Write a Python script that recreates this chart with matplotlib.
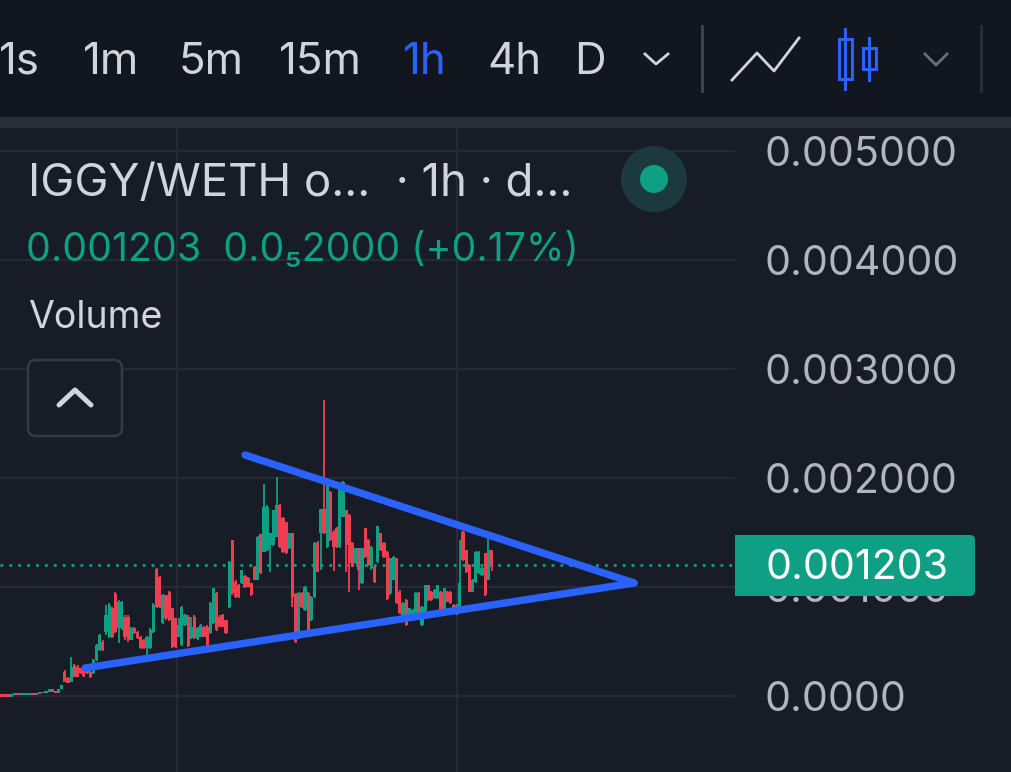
#hourly candles of IGGY/WETH with a hand drawn triangle on top
import numpy as np
import matplotlib
matplotlib.use('Agg')
import matplotlib.pyplot as plt
from matplotlib.patches import FancyBboxPatch, Rectangle, Circle

plt.rcParams['font.family'] = ['Inter', 'DejaVu Sans']

#prices are in units of 0.001
opens = [.02, .015, .015, -.005, .005, .03, .008, .008, .008, .008,
         .025, .005, .02, .04, .025, .035, .06, .05, .03, .06,
         .223, .162, .131, .284, .269, .254, .239, .239, .223, .208,
         .330, .422, .498, .590, .544, .804, .936, .621, .621, .728,
         .728, .514, .621, .590, .544, .514, .437, .437, .590, 1.162,
         1.095, .667, .927, .957, .804, .713, .544, .468, .651, .728,
         .529, .728, .520, .544, .636, .636, .575, .667, .948, .728,
         .743, .697, .820, 1.431, 1.049, 1.018, 1.034, 1.10, 1.080, 1.034,
         1.187, 1.064, 1.486, 1.324, 1.339, 1.385, 1.385, 1.462, 1.752, 1.630,
         1.593, 1.355, 1.492, .936, .529, .942, .789, .942, .697, .911,
         1.407, 1.492, 1.716, 1.370, 1.875, 1.508, 1.538, 1.370, 1.645, 1.706,
         1.661, 1.401, 1.217, 1.355, 1.040, 1.538, 1.431, 1.171, 1.187, 1.232,
         1.492, 1.401, 1.324, .942, 1.064, 1.263, .957, .697, .881, .713,
         .697, .713, .942, .651, .758, 1.018, .957, .90, .896, .957,
         .789, .957, .957, .835, .752, .820, 1.508, 1.339, 1.202, .957,
         1.049, 1.125, 1.110, 1.309, 1.064, 1.339]
closes = [-.01, -.01, -.01, .015, .025, .01, .024, .024, .024, .024,
          .005, .025, .04, .025, .045, .06, .035, .025, .06, .10,
          .131, .122, .269, .177, .177, .208, .183, .208, .177, .330,
          .468, .560, .422, .743, .835, .544, .590, .865, .865, .544,
          .514, .621, .575, .529, .437, .437, .544, .606, .835, .820,
          .820, .927, .713, .697, .446, .446, .651, .820, .743, .459,
          .636, .529, .621, .651, .544, .468, .850, .988, .606, .636,
          .636, .575, 1.232, .942, .911, .911, 1.156, 1.0, 1.003, .927,
          1.064, 1.462, 1.131, 1.737, 1.737, 1.492, 1.706, 1.752, 1.370, 1.324,
          1.309, 1.492, .911, .498, .942, .820, 1.003, .599, .911, 1.401,
          1.141, 1.716, 1.492, 1.988, 1.431, 1.370, 1.370, 1.942, 1.966, 1.385,
          1.217, 1.187, 1.355, 1.156, 1.355, 1.278, 1.202, 1.370, 1.049, 1.560,
          1.339, 1.278, .887, 1.263, 1.272, .850, .758, .850, .651, .804,
          .789, .942, .743, .820, 1.018, .881, .881, .97, 1.018, .752,
          .988, .865, .850, .774, .835, 1.034, 1.248, 1.141, .957, 1.064,
          1.324, 1.324, 1.171, .927, 1.339, 1.203]
highs = [.02, .015, .015, .015, .025, .03, .024, .024, .024, .024,
         .025, .025, .04, .04, .045, .06, .06, .05, .06, .10,
         .24, .17, .355, .29, .28, .26, .245, .245, .23, .34,
         .48, .57, .51, .835, .85, .82, .95, .88, .875, .74,
         .74, .63, .63, .60, .555, .52, .55, .62, .85, 1.17,
         1.10, .94, .93, .96, .81, .72, .713, .83, .75, .74,
         .728, .74, .63, .66, .64, .65, .86, .988, .955, .74,
         .75, .70, 1.24, 1.431, 1.06, 1.03, 1.16, 1.11, 1.09, 1.04,
         1.19, 1.47, 1.49, 1.945, 1.75, 1.50, 1.71, 2.006, 1.76, 1.64,
         1.60, 1.50, 1.50, .945, .95, .95, 1.01, .95, .92, 1.41,
         1.42, 1.72, 2.716, 2.0, 1.88, 1.52, 1.55, 1.95, 1.97, 1.71,
         1.67, 1.41, 1.36, 1.36, 1.36, 1.54, 1.44, 1.38, 1.19, 1.56,
         1.50, 1.41, 1.33, 1.27, 1.28, 1.27, .97, .86, .89, .81,
         .80, .95, .95, .83, 1.02, 1.02, .96, .98, 1.02, .96,
         .99, .96, .96, .84, .84, 1.431, 1.51, 1.34, 1.21, 1.07,
         1.33, 1.33, 1.18, 1.31, 1.446, 1.34]
lows = [-.01, -.01, -.01, -.005, .005, .01, .008, .008, .008, .008,
        .005, .005, .02, .025, .025, .035, .035, .025, .03, .06,
        .125, .115, .125, .17, .17, .20, .175, .20, .165, .20,
        .32, .415, .415, .56, .53, .53, .58, .483, .61, .514,
        .50, .51, .57, .52, .43, .43, .367, .43, .58, .81,
        .81, .66, .70, .69, .44, .44, .54, .46, .64, .45,
        .52, .52, .51, .54, .54, .46, .57, .66, .60, .63,
        .63, .57, .81, .93, .90, .90, 1.03, .99, 1.0, .92,
        1.06, 1.064, 1.12, 1.32, 1.33, 1.141, 1.38, 1.46, 1.36, 1.31,
        1.30, 1.35, .82, .49, .52, .81, .78, .59, .69, .90,
        1.14, 1.156, 1.49, 1.36, 1.42, 1.15, 1.36, 1.36, 1.64, 1.141,
        .957, 1.18, 1.21, .972, 1.03, 1.27, 1.19, 1.16, 1.04, 1.22,
        1.33, 1.27, .88, .93, 1.06, .84, .75, .69, .64, .70,
        .69, .70, .73, .64, .75, .87, .87, .89, .89, .74,
        .78, .86, .84, .77, .74, .81, 1.24, 1.13, .95, .95,
        1.04, 1.12, 1.10, .92, 1.06, 1.15]

#trendlines as (candle, price)
upper_x = [77.0, 200.1]
upper_y = [2.211, 1.037]
lower_x = [26.4, 200.1]
lower_y = [0.257, 1.037]

y_ticks = [0, 1, 2, 3, 4, 5]
y_labels = ['0.0000', '0.001000', '0.002000', '0.003000', '0.004000', '0.005000']
x_grid = [55.5, 144.1]
last_price = 1.203

intervals = ['1s', '1m', '5m', '15m', '1h', '4h', 'D']
interval_x = [-1, 83, 179, 279, 403, 487, 574]

UP = '#0E9F84'
DOWN = '#EE3E52'
BLUE = '#2962FF'
TEXT = '#D1D4DC'
GRID = '#262A35'
PANE = '#181C27'

W, H = 1011, 772
fig = plt.figure(figsize=(W/100, H/100), dpi=100, facecolor=PANE)

#chart pane, 109 px per 0.001 and 3.16 px per candle
ax = fig.add_axes([0, 0, 735/W, (H-128)/H], facecolor=PANE)
ax.set_xlim(-1.7/3.16, (735-1.7)/3.16)
ax.set_ylim((696-772)/109, (696-128)/109)

x = np.arange(len(opens))
o = np.array(opens)
c = np.array(closes)
colors = [UP if c[i] >= o[i] else DOWN for i in x]
ax.vlines(x, lows, highs, colors=colors, lw=1.3, zorder=3)
ax.bar(x, np.abs(c-o), bottom=np.minimum(o, c), width=1.0, color=colors, linewidth=0, zorder=3)

ax.axhline(last_price, color=UP, lw=2, dashes=(1, 2.2), zorder=2)
ax.plot(upper_x, upper_y, color=BLUE, lw=5.3, solid_capstyle='round', zorder=4)
ax.plot(lower_x, lower_y, color=BLUE, lw=5.3, solid_capstyle='round', zorder=4)

ax.set_xticks(x_grid)
ax.set_yticks(y_ticks)
ax.set_xticklabels([])
ax.set_yticklabels(y_labels, color='#B2B5BE', fontsize=29.6)
ax.yaxis.tick_right()
ax.tick_params(axis='both', length=0)
ax.tick_params(axis='y', pad=21)
ax.grid(True, color=GRID, lw=1.6)
ax.set_axisbelow(True)
for s in ax.spines.values():
    s.set_visible(False)

#toolbar and legend widgets, in pixel coordinates
ui = fig.add_axes([0, 0, 1, 1], facecolor='none', zorder=5)
ui.set_xlim(0, W)
ui.set_ylim(H, 0)
ui.axis('off')

ui.add_patch(Rectangle((0, 0), W, 117, color='#12161F', lw=0))
ui.add_patch(Rectangle((0, 117), W, 11, color='#2A2E39', lw=0))

for lab, lx in zip(intervals, interval_x):
    col = BLUE if lab == '1h' else TEXT
    ui.text(lx, 74, lab, color=col, fontsize=31.5, ha='left', va='baseline')

ui.plot([645, 656, 668], [54, 64, 54], color=TEXT, lw=2)
ui.plot([925, 936, 947], [54, 65, 54], color='#6A6D78', lw=2)
ui.plot([702, 702], [26, 91], color='#434651', lw=2)
ui.plot([981, 981], [26, 91], color='#2A2E39', lw=2)
ui.plot([732, 757, 774, 799], [80, 53, 71, 38], color=TEXT, lw=2)
ui.plot([845, 845], [29, 89], color=BLUE, lw=2.2)
ui.add_patch(Rectangle((839, 39), 13, 40, fc='#12161F', ec=BLUE, lw=2.2))
ui.plot([869, 869], [38, 80], color=BLUE, lw=2.2)
ui.add_patch(Rectangle((863, 48), 13, 21, fc='#12161F', ec=BLUE, lw=2.2))

ui.text(28, 196, 'IGGY/WETH o...  · 1h · d...', color=TEXT, fontsize=32.8, va='baseline')
ui.text(26, 261, '0.001203  0.0₅2000 (+0.17%)', color=UP, fontsize=28.3, va='baseline')
ui.text(28, 328, 'Volume', color=TEXT, fontsize=27, va='baseline')

ui.add_patch(Circle((654, 179), 33, color='#1C3A3E', lw=0))
ui.add_patch(Circle((654, 179), 14, color=UP, lw=0))

ui.add_patch(FancyBboxPatch((32, 364), 86, 68, boxstyle='round,pad=4,rounding_size=8',
                            fc=PANE, ec='#363A45', lw=1.8))
ui.plot([59, 75, 91], [405, 390, 405], color=TEXT, lw=3.6, solid_capstyle='round')

#last price tag
ui.add_patch(FancyBboxPatch((740, 540), 230, 51, boxstyle='round,pad=5,rounding_size=5', fc=UP, lw=0))
ui.add_patch(Rectangle((735, 535), 20, 61, color=UP, lw=0))
ui.text(765, 579, '0.001203', color='white', fontsize=29.6, va='baseline')

fig.savefig('out.png', dpi=100, facecolor=PANE)
